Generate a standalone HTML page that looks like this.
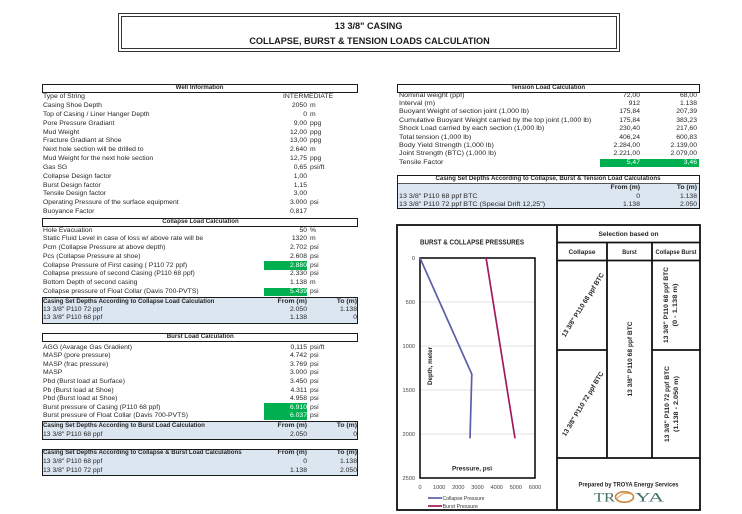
<!DOCTYPE html>
<html><head><meta charset="utf-8">
<style>
body{margin:0;background:#fff}
#p{position:relative;width:742px;height:514px;overflow:hidden;font-family:"Liberation Sans",Arial,sans-serif;color:#262626;background:#fff}
.r{position:absolute;left:0;width:742px;height:8px;line-height:8px;font-size:6.8px}
.r span{position:absolute;top:0;white-space:nowrap;transform-origin:0 50%}
.a{left:43px}
.v{right:435px}
.u{left:310px}
.w{left:283px}
.T{right:385px}
.a2{left:399px;transform:scaleX(1.05)}
.c1{right:102px}
.c2{right:45px}
.b{font-weight:bold}
.b .a,.b .a2{transform:scaleX(.9)}
.g{color:#fff}
.box{position:absolute;border:1.5px solid #1a1a1a;box-sizing:border-box}
.hd{position:absolute;height:9px;border:1.5px solid #1a1a1a;box-sizing:border-box;font-weight:bold;font-size:6.8px;line-height:6px;text-align:center;white-space:nowrap}
.hd i,.ct i{font-style:normal;display:inline-block;transform:scaleX(.9)}
.ct{position:absolute;text-align:center;white-space:nowrap;font-size:6.8px;line-height:8px;font-weight:bold}
.gr{position:absolute;background:#00b050}
.tt{position:absolute;left:118px;width:502px;text-align:center;font-weight:bold;font-size:9.6px;line-height:10px;color:#1a1a1a;white-space:nowrap}
.tt i{font-style:normal;display:inline-block;transform:scaleX(.95)}
</style></head>
<body><div id="p">

<!-- Title -->
<div style="position:absolute;left:118px;top:13px;width:502px;height:39px;border:4px double #333;box-sizing:border-box"></div>
<div class="tt" style="top:21.5px"><i>13 3/8" CASING</i></div>
<div class="tt" style="top:37px"><i>COLLAPSE, BURST &amp; TENSION LOADS CALCULATION</i></div>

<!-- Well Information -->
<div class="hd" style="left:42px;width:316px;top:84px"><i>Well Information</i></div>
<div class="r" style="top:93.3px"><span class="a">Type of String</span><span class="w">INTERMEDIATE</span></div>
<div class="r" style="top:102.1px"><span class="a">Casing Shoe Depth</span><span class="v">2050</span><span class="u">m</span></div>
<div class="r" style="top:110.9px"><span class="a">Top of Casing / Liner Hanger Depth</span><span class="v">0</span><span class="u">m</span></div>
<div class="r" style="top:119.8px"><span class="a">Pore Pressure Gradiant</span><span class="v">9,00</span><span class="u">ppg</span></div>
<div class="r" style="top:128.6px"><span class="a">Mud Weight</span><span class="v">12,00</span><span class="u">ppg</span></div>
<div class="r" style="top:137.4px"><span class="a">Fracture Gradiant at Shoe</span><span class="v">13,00</span><span class="u">ppg</span></div>
<div class="r" style="top:146.2px"><span class="a">Next hole section will be drilled to</span><span class="v">2.640</span><span class="u">m</span></div>
<div class="r" style="top:155px"><span class="a">Mud Weight for the next hole section</span><span class="v">12,75</span><span class="u">ppg</span></div>
<div class="r" style="top:163.9px"><span class="a">Gas SG</span><span class="v">0,65</span><span class="u">psi/ft</span></div>
<div class="r" style="top:172.7px"><span class="a">Collapse Design factor</span><span class="v">1,00</span></div>
<div class="r" style="top:181.5px"><span class="a">Burst Design factor</span><span class="v">1,15</span></div>
<div class="r" style="top:190.3px"><span class="a">Tensile Design factor</span><span class="v">3,00</span></div>
<div class="r" style="top:199.1px"><span class="a">Operating Pressure of the surface equipment</span><span class="v">3.000</span><span class="u">psi</span></div>
<div class="r" style="top:208px"><span class="a">Buoyance Factor</span><span class="v">0,817</span></div>

<!-- Collapse Load -->
<div class="hd" style="left:42px;width:316px;top:218px"><i>Collapse Load Calculation</i></div>
<div class="gr" style="left:264px;top:261.3px;width:43px;height:8.3px"></div>
<div class="gr" style="left:264px;top:287.6px;width:43px;height:8.3px"></div>
<div class="r" style="top:226.7px"><span class="a">Hole Evacuation</span><span class="v">50</span><span class="u">%</span></div>
<div class="r" style="top:235.4px"><span class="a">Static Fluid Level in case of loss w/ above rate will be</span><span class="v">1320</span><span class="u">m</span></div>
<div class="r" style="top:244.2px"><span class="a">Pcm (Collapse Pressure at above depth)</span><span class="v">2.702</span><span class="u">psi</span></div>
<div class="r" style="top:252.9px"><span class="a">Pcs (Collapse Pressure at shoe)</span><span class="v">2.608</span><span class="u">psi</span></div>
<div class="r" style="top:261.5px"><span class="a">Collapse Pressure of First casing ( P110 72 ppf)</span><span class="v g">2.880</span><span class="u">psi</span></div>
<div class="r" style="top:270.2px"><span class="a">Collapse pressure of second Casing (P110 68 ppf)</span><span class="v">2.330</span><span class="u">psi</span></div>
<div class="r" style="top:279px"><span class="a">Bottom Depth of second casing</span><span class="v">1.138</span><span class="u">m</span></div>
<div class="r" style="top:287.7px"><span class="a">Collapse pressure of Float Collar (Davis 700-PVTS)</span><span class="v g">5.439</span><span class="u">psi</span></div>

<div class="box" style="left:42px;top:297px;width:316px;height:26.5px;background:#dce6f1"></div>
<div class="r b" style="top:297.7px"><span class="a">Casing Set Depths According to Collapse Load Calculation</span><span class="v">From (m)</span><span class="T">To (m)</span></div>
<div class="r" style="top:306px"><span class="a">13 3/8" P110 72 ppf</span><span class="v">2.050</span><span class="T">1.138</span></div>
<div class="r" style="top:314.3px"><span class="a">13 3/8" P110 68 ppf</span><span class="v">1.138</span><span class="T">0</span></div>

<!-- Burst Load -->
<div class="hd" style="left:42px;width:316px;top:333px"><i>Burst Load Calculation</i></div>
<div class="gr" style="left:264px;top:403.4px;width:43px;height:8.4px"></div>
<div class="gr" style="left:264px;top:412px;width:43px;height:8.3px"></div>
<div class="r" style="top:343.8px"><span class="a">AGG (Avarage Gas Gradient)</span><span class="v">0,115</span><span class="u">psi/ft</span></div>
<div class="r" style="top:352.3px"><span class="a">MASP (pore pressure)</span><span class="v">4.742</span><span class="u">psi</span></div>
<div class="r" style="top:360.8px"><span class="a">MASP (frac pressure)</span><span class="v">3.769</span><span class="u">psi</span></div>
<div class="r" style="top:369.4px"><span class="a">MASP</span><span class="v">3.000</span><span class="u">psi</span></div>
<div class="r" style="top:378px"><span class="a">Pbd (Burst load at Surface)</span><span class="v">3.450</span><span class="u">psi</span></div>
<div class="r" style="top:386.6px"><span class="a">Pb (Burst load at Shoe)</span><span class="v">4.311</span><span class="u">psi</span></div>
<div class="r" style="top:395.2px"><span class="a">Pbd (Burst load at Shoe)</span><span class="v">4.958</span><span class="u">psi</span></div>
<div class="r" style="top:403.8px"><span class="a">Burst pressure of Casing (P110 68 ppf)</span><span class="v g">6.910</span><span class="u">psi</span></div>
<div class="r" style="top:412.4px"><span class="a">Burst pressure of Float Collar (Davis 700-PVTS)</span><span class="v g">6.037</span><span class="u">psi</span></div>

<div class="box" style="left:42px;top:421px;width:316px;height:18.5px;background:#dce6f1"></div>
<div class="r b" style="top:422px"><span class="a">Casing Set Depths According to Burst Load Calculation</span><span class="v">From (m)</span><span class="T">To (m)</span></div>
<div class="r" style="top:431px"><span class="a">13 3/8" P110 68 ppf</span><span class="v">2.050</span><span class="T">0</span></div>

<div class="box" style="left:42px;top:449px;width:316px;height:27px;background:#dce6f1"></div>
<div class="r b" style="top:449.3px"><span class="a">Casing Set Depths According to Collapse &amp; Burst Load Calculations</span><span class="v">From (m)</span><span class="T">To (m)</span></div>
<div class="r" style="top:458.3px"><span class="a">13 3/8" P110 68 ppf</span><span class="v">0</span><span class="T">1.138</span></div>
<div class="r" style="top:466.7px"><span class="a">13 3/8" P110 72 ppf</span><span class="v">1.138</span><span class="T">2.050</span></div>

<!-- Tension -->
<div class="hd" style="left:397px;width:303px;top:84px;height:8.6px;line-height:5.6px"><i>Tension Load Calculation</i></div>
<div class="gr" style="left:600px;top:159px;width:99px;height:8px"></div>
<div class="r" style="top:91.7px"><span class="a2">Nominal weight (ppf)</span><span class="c1">72,00</span><span class="c2">68,00</span></div>
<div class="r" style="top:100.1px"><span class="a2">Interval (m)</span><span class="c1">912</span><span class="c2">1.138</span></div>
<div class="r" style="top:108.4px"><span class="a2">Buoyant Weight of section joint (1,000 lb)</span><span class="c1">175,84</span><span class="c2">207,39</span></div>
<div class="r" style="top:116.8px"><span class="a2">Cumulative Buoyant Weight carried by the top joint (1,000 lb)</span><span class="c1">175,84</span><span class="c2">383,23</span></div>
<div class="r" style="top:125.2px"><span class="a2">Shock Load carried by each section (1,000 lb)</span><span class="c1">230,40</span><span class="c2">217,60</span></div>
<div class="r" style="top:133.6px"><span class="a2">Total tension (1,000 lb)</span><span class="c1">406,24</span><span class="c2">600,83</span></div>
<div class="r" style="top:141.9px"><span class="a2">Body Yield Strength (1,000 lb)</span><span class="c1">2.284,00</span><span class="c2">2.139,00</span></div>
<div class="r" style="top:150.3px"><span class="a2">Joint Strength (BTC) (1,000 lb)</span><span class="c1">2.221,00</span><span class="c2">2.079,00</span></div>
<div class="r" style="top:158.7px"><span class="a2">Tensile Factor</span><span class="c1 g">5,47</span><span class="c2 g">3,46</span></div>

<div class="box" style="left:397px;top:175px;width:303px;height:33.5px;background:linear-gradient(#fff 0,#fff 7px,#dce6f1 7px)"></div>
<div style="position:absolute;left:398px;top:183px;width:301px;height:1px;background:#555"></div>
<div class="ct" style="left:397px;width:303px;top:175px"><i>Casing Set Depths According to Collapse, Burst &amp; Tension Load Calculations</i></div>
<div class="r b" style="top:183.7px"><span class="c1">From (m)</span><span class="c2">To (m)</span></div>
<div class="r" style="top:192.7px"><span class="a2">13 3/8" P110 68 ppf BTC</span><span class="c1">0</span><span class="c2">1.138</span></div>
<div class="r" style="top:200.7px"><span class="a2">13 3/8" P110 72 ppf BTC (Special Drift 12,25")</span><span class="c1">1.138</span><span class="c2">2.050</span></div>

<!-- Chart + selection panel -->
<svg width="742" height="514" style="position:absolute;left:0;top:0" font-family="Liberation Sans, Arial, sans-serif">
  <g stroke="#111" stroke-width="1.8" fill="none">
    <rect x="397" y="225" width="303" height="285"/>
    <line x1="557" y1="225" x2="557" y2="510"/>
    <line x1="557" y1="242.5" x2="700" y2="242.5"/>
    <line x1="557" y1="260.5" x2="700" y2="260.5"/>
    <line x1="607" y1="242.5" x2="607" y2="458"/>
    <line x1="652" y1="242.5" x2="652" y2="458"/>
    <line x1="557" y1="350" x2="607" y2="350"/>
    <line x1="652" y1="350" x2="700" y2="350"/>
    <line x1="557" y1="458" x2="700" y2="458"/>
  </g>

  <text x="472" y="244.5" font-size="7.4" font-weight="bold" fill="#262626" text-anchor="middle" textLength="104" lengthAdjust="spacingAndGlyphs">BURST &amp; COLLAPSE PRESSURES</text>

  <!-- gridlines -->
  <g stroke="#d9d9d9" stroke-width="0.8">
    <line x1="420" y1="302" x2="535" y2="302"/>
    <line x1="420" y1="346" x2="535" y2="346"/>
    <line x1="420" y1="390" x2="535" y2="390"/>
    <line x1="420" y1="434" x2="535" y2="434"/>
  </g>
  <rect x="420" y="258" width="115" height="220" fill="none" stroke="#111" stroke-width="1.6"/>

  <!-- y ticks -->
  <g font-size="5.6" fill="#444" text-anchor="end">
    <text x="415" y="260">0</text>
    <text x="415" y="304">500</text>
    <text x="415" y="348">1000</text>
    <text x="415" y="392">1500</text>
    <text x="415" y="436">2000</text>
    <text x="415" y="480">2500</text>
  </g>
  <!-- x ticks -->
  <g font-size="5.6" fill="#444" text-anchor="middle">
    <text x="420" y="489">0</text>
    <text x="439.2" y="489">1000</text>
    <text x="458.3" y="489">2000</text>
    <text x="477.5" y="489">3000</text>
    <text x="496.7" y="489">4000</text>
    <text x="515.8" y="489">5000</text>
    <text x="535" y="489">6000</text>
  </g>

  <!-- series -->
  <polyline points="420,258 471.8,374.2 470,438.4" fill="none" stroke="#5b5ea8" stroke-width="1.7"/>
  <polyline points="486.1,258 515,438.4" fill="none" stroke="#a31a5c" stroke-width="1.7"/>

  <text transform="translate(432,366) rotate(-90)" font-size="6.4" font-weight="bold" fill="#262626" text-anchor="middle" textLength="38" lengthAdjust="spacingAndGlyphs">Depth, meter</text>
  <text x="472" y="470.3" font-size="6.8" font-weight="bold" fill="#262626" text-anchor="middle" textLength="40" lengthAdjust="spacingAndGlyphs">Pressure, psi</text>

  <!-- legend -->
  <line x1="428" y1="498" x2="442" y2="498" stroke="#5b5ea8" stroke-width="1.7"/>
  <text x="442.5" y="500" font-size="5.8" fill="#333" textLength="42" lengthAdjust="spacingAndGlyphs">Collapse Pressure</text>
  <line x1="428" y1="506" x2="442" y2="506" stroke="#a31a5c" stroke-width="1.7"/>
  <text x="442.5" y="508" font-size="5.8" fill="#333" textLength="35.5" lengthAdjust="spacingAndGlyphs">Burst Pressure</text>

  <!-- selection panel text -->
  <g font-weight="bold" fill="#262626" text-anchor="middle">
    <text x="628.5" y="235.8" font-size="6.4" textLength="60" lengthAdjust="spacingAndGlyphs">Selection based on</text>
    <text x="582" y="253.8" font-size="6.4" textLength="27" lengthAdjust="spacingAndGlyphs">Collapse</text>
    <text x="629.5" y="253.8" font-size="6.4" textLength="14.5" lengthAdjust="spacingAndGlyphs">Burst</text>
    <text x="676" y="253.8" font-size="6.4" textLength="41" lengthAdjust="spacingAndGlyphs">Collapse Burst</text>

    <text transform="translate(583,305) rotate(-58)" font-size="6.8" textLength="74" lengthAdjust="spacingAndGlyphs" dy="2">13 3/8" P110 68 ppf BTC</text>
    <text transform="translate(583,404) rotate(-59)" font-size="6.8" textLength="74" lengthAdjust="spacingAndGlyphs" dy="2">13 3/8" P110 72 ppf BTC</text>

    <text transform="translate(632,359) rotate(-90)" font-size="6.8" textLength="75" lengthAdjust="spacingAndGlyphs">13 3/8" P110 68 ppf BTC</text>

    <text transform="translate(668,305) rotate(-90)" font-size="6.6" textLength="76" lengthAdjust="spacingAndGlyphs">13 3/8" P110 68 ppf BTC</text>
    <text transform="translate(677,305) rotate(-90)" font-size="6.6" textLength="43" lengthAdjust="spacingAndGlyphs">(0 - 1.138 m)</text>
    <text transform="translate(669,404) rotate(-90)" font-size="6.6" textLength="76" lengthAdjust="spacingAndGlyphs">13 3/8" P110 72 ppf BTC</text>
    <text transform="translate(678,404) rotate(-90)" font-size="6.6" textLength="56" lengthAdjust="spacingAndGlyphs">(1.138 - 2.050 m)</text>

    <text x="628.5" y="486.5" font-size="6.4" textLength="100" lengthAdjust="spacingAndGlyphs">Prepared by TROYA Energy Services</text>
  </g>

  <!-- TROYA logo -->
  <text x="594" y="501.5" font-family="Liberation Serif, serif" font-size="13" fill="#3f6f66" textLength="21" lengthAdjust="spacingAndGlyphs">TR</text>
  <ellipse cx="624.5" cy="497" rx="9" ry="5.2" fill="none" stroke="#c8873f" stroke-width="1.6"/>
  <path d="M616.5 499 Q624.5 490 633 495" fill="none" stroke="#d9a460" stroke-width="1"/>
  <text x="635" y="501.5" font-family="Liberation Serif, serif" font-size="13" fill="#3f6f66" textLength="29" lengthAdjust="spacingAndGlyphs">YA</text>
</svg>

</div></body></html>
